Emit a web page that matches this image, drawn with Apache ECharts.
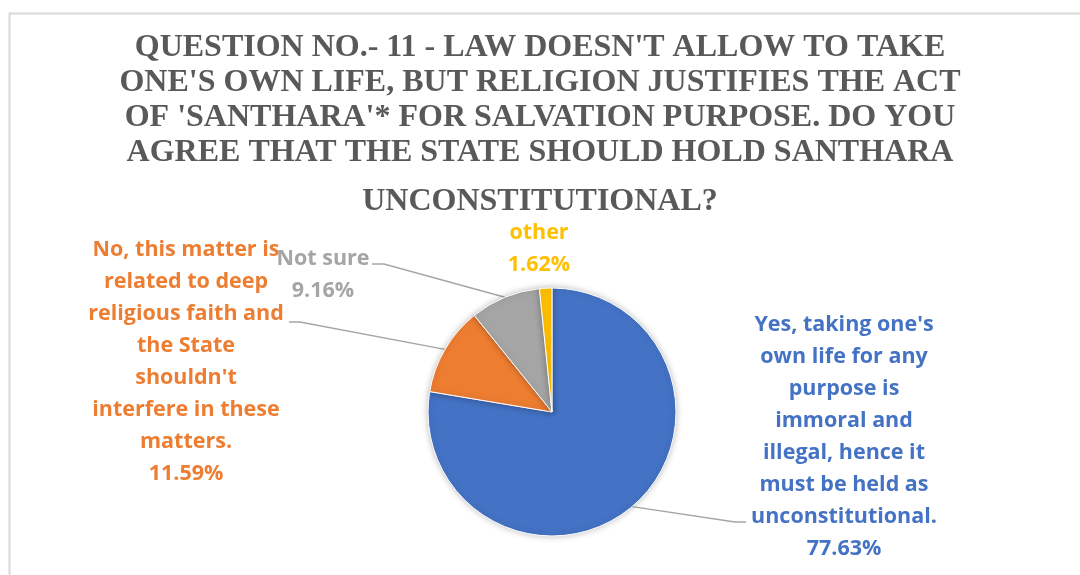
<!DOCTYPE html>
<html>
<head>
<meta charset="utf-8">
<style>
  html, body { margin: 0; padding: 0; background: #ffffff; }
  #chart { width: 1080px; height: 575px; }
</style>
<script src="https://cdn.jsdelivr.net/npm/echarts@6/dist/echarts.min.js"></script>
</head>
<body>
<div id="chart"></div>
<script>
// Survey answers (clockwise from 12 o'clock) and their shares in percent
const answers = [
  "Yes, taking one's\nown life for any\npurpose is\nimmoral and\nillegal, hence it\nmust be held as\nunconstitutional.",
  "No, this matter is\nrelated to deep\nreligious faith and\nthe State\nshouldn't\ninterfere in these\nmatters.",
  "Not sure",
  "other"
];
const shares = [77.63, 11.59, 9.16, 1.62];
const sliceColors = ['#4472C4', '#ED7D31', '#A5A5A5', '#FFC000'];

const titleLines = [
  "QUESTION NO.- 11 - LAW DOESN'T ALLOW TO TAKE",
  "ONE'S OWN LIFE, BUT RELIGION JUSTIFIES THE ACT",
  "OF 'SANTHARA'* FOR SALVATION PURPOSE. DO YOU",
  "AGREE THAT THE STATE SHOULD HOLD SANTHARA"
];
const titleLastLine = "UNCONSTITUTIONAL?";

const labelFont = '"Open Sans", "Noto Sans", sans-serif';
const titleFont = '"Liberation Serif", "Times New Roman", serif';

// Where each data label sits (centre x, top y) and where its leader line bends
const labelSpots = [
  { x: 844, y: 309, elbow: [735, 522], end: [746, 522] },
  { x: 186, y: 234, elbow: [300, 322], end: [289, 322] },
  { x: 323, y: 243, elbow: [384, 264], end: [372, 264] },
  { x: 539, y: 217, elbow: null, end: null }
];

const chart = echarts.init(document.getElementById('chart'), null, { renderer: 'canvas' });

const titleStyle = {
  fontFamily: titleFont,
  fontWeight: 'bold',
  fontSize: 32,
  lineHeight: 35,
  color: '#595959'
};

const option = {
  backgroundColor: '#ffffff',
  animation: false,
  title: [
    { text: titleLines.join('\n'), left: 'center', top: 25, textStyle: titleStyle },
    { text: titleLastLine, left: 'center', top: 179, textStyle: titleStyle }
  ],
  graphic: [
    {
      type: 'rect',
      shape: { x: 9.5, y: 13.5, width: 1100, height: 600 },
      style: { fill: null, stroke: '#d9d9d9', lineWidth: 2 },
      silent: true,
      z: -10
    }
  ],
  series: [
    {
      type: 'pie',
      center: [552, 412],
      radius: [0, 124],
      startAngle: 90,
      clockwise: true,
      avoidLabelOverlap: false,
      itemStyle: {
        borderColor: '#ffffff',
        borderWidth: 1,
        shadowBlur: 6,
        shadowColor: 'rgba(0,0,0,0.25)'
      },
      label: {
        show: true,
        position: 'outside',
        formatter: p => p.name + '\n' + p.value.toFixed(2) + '%',
        fontFamily: labelFont,
        fontWeight: 'bold',
        fontSize: 21.5,
        lineHeight: 32,
        align: 'center'
      },
      labelLine: {
        show: true,
        lineStyle: { color: '#a6a6a6', width: 1.5 }
      },
      labelLayout: function (params) {
        const spot = labelSpots[params.dataIndex];
        const out = { x: spot.x, y: spot.y, align: 'center', verticalAlign: 'top' };
        if (spot.elbow && params.labelLinePoints) {
          out.labelLinePoints = [params.labelLinePoints[0], spot.elbow, spot.end];
        }
        return out;
      },
      data: answers.map((name, i) => ({
        name: name,
        value: shares[i],
        itemStyle: { color: sliceColors[i] },
        label: { color: sliceColors[i] },
        labelLine: { show: i !== 3 }
      }))
    }
  ]
};

chart.setOption(option);
</script>
</body>
</html>
